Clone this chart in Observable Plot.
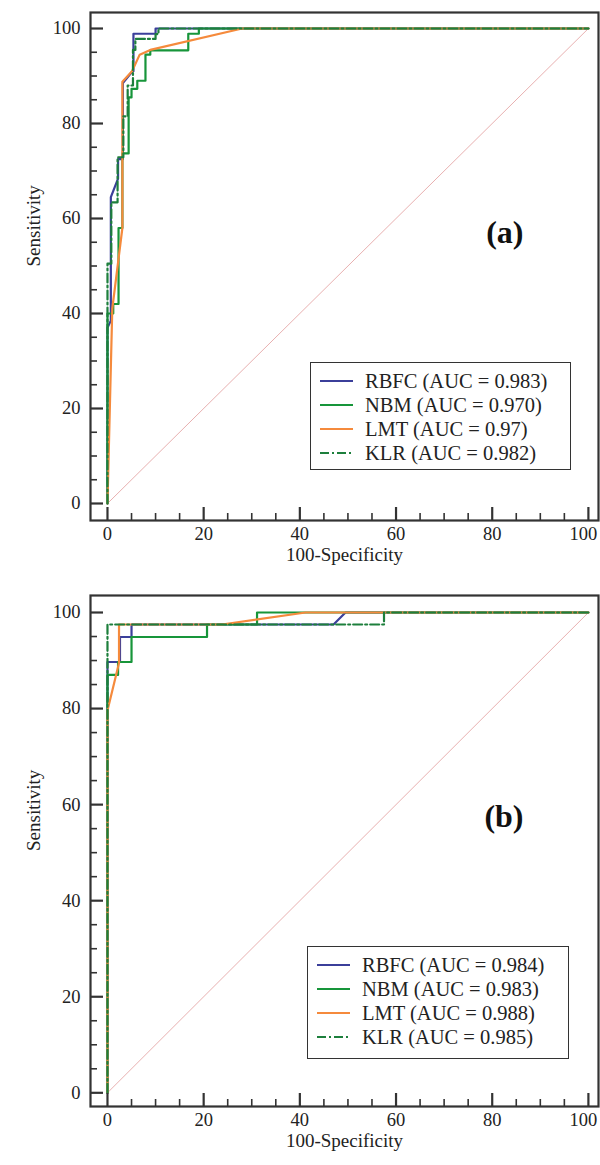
<!DOCTYPE html>
<html><head><meta charset="utf-8">
<script src="https://cdn.jsdelivr.net/npm/d3@7"></script>
<script src="https://cdn.jsdelivr.net/npm/@observablehq/plot@0.6"></script>
<style>
body{margin:0;background:#fff;}
#fig{position:relative;width:600px;height:1165px;font-family:"Liberation Serif","Times New Roman",serif;overflow:hidden;}
.panel{position:absolute;left:0;}
.legend{position:absolute;box-sizing:border-box;border:1.5px solid #333;background:#fff;font-size:20.5px;color:#222;padding-top:6px;}
.legend .row{display:flex;align-items:center;height:24px;white-space:nowrap;}
.legend svg{margin-left:9px;margin-right:12px;}
</style></head>
<body><div id="fig"></div>
<script>
// ---------- data ----------
const series = ["RBFC", "NBM", "LMT", "KLR"];
const colors = ["#3b3f9a", "#17953a", "#f58a3c", "#1d7f3c"];
const dashes = [null, null, null, "9,3,2,3"];
const aucA = ["0.983", "0.970", "0.97", "0.982"];
const aucB = ["0.984", "0.983", "0.988", "0.985"];
const majorTicks = [0, 20, 40, 60, 80, 100];
const xLabelsInner = [0, 20, 40, 60, 80];
const xLabelsEdge = [100];
const minorTicks = [5, 10, 15, 25, 30, 35, 45, 50, 55, 65, 70, 75, 85, 90, 95];
const diagonal = [[0, 0], [100, 100]];

// panel (a) ROC curves: [100-specificity, sensitivity]
const rbfcA = [[0,0],[0,37],[0.7,38.5],[0.7,64.5],[2.2,68.4],[2.2,72.5],[3.2,72.5],[3.2,88.5],[5.2,91],[5.4,91],[5.4,98.9],[10,98.9],[10,100],[100,100]];
const nbmA  = [[0,0],[0,40],[1.2,40],[1.2,42],[2.3,42],[2.3,58],[3.1,58],[3.1,73.7],[4.4,73.7],[4.4,85.5],[5,85.5],[5,87.3],[6.2,87.3],[6.2,89],[7.9,89],[7.9,94.5],[8.9,94.5],[8.9,95.4],[16.8,95.4],[16.8,98.9],[19,98.9],[19,100],[100,100]];
const lmtA  = [[0,0],[1,41],[3.1,58],[3.1,88.8],[5.1,91],[6.7,94.5],[8.9,95.5],[28,100],[100,100]];
const klrA  = [[0,0],[0,50.5],[0.8,50.5],[0.8,63.4],[2.1,63.4],[2.1,72.9],[3.3,72.9],[3.3,81.5],[4.2,81.5],[4.2,88],[5.3,88],[5.3,95.5],[5.8,95.5],[5.8,97.8],[10,97.8],[10,98.8],[10.6,98.8],[10.6,100],[100,100]];

// panel (b) ROC curves
const rbfcB = [[0,0],[0,89.7],[2.6,89.7],[2.6,94.9],[5,94.9],[5,97.5],[47,97.5],[49.5,100],[100,100]];
const nbmB  = [[0,0],[0,87],[2.2,87],[2.2,89.7],[5,89.7],[5,94.9],[20.7,94.9],[20.7,97.5],[31.1,97.5],[31.1,100],[100,100]];
const lmtB  = [[0,0],[0,79.6],[2.4,89.5],[2.4,97.5],[23.8,97.5],[41.2,100],[100,100]];
const klrB  = [[0,0],[0,97.5],[57.5,97.5],[57.5,100],[100,100]];

// ---------- drawing ----------
const AX = "#333";
const noText = () => "";
function panel({curves, yDomain, height, marginTop, marginBottom, tag}) {
  return Plot.plot({
    width: 600, height, marginLeft: 90, marginRight: 2, marginTop, marginBottom,
    x: {domain: [-3.53, 102.1]},
    y: {domain: yDomain},
    style: {fontFamily: "Liberation Serif, Times New Roman, serif", fontSize: "18px", color: "#222", background: "white"},
    marks: [
      Plot.line(diagonal, {x: d => d[0], y: d => d[1], stroke: "#e8b0b0", strokeWidth: 1}),
      ...curves.map((c, i) => Plot.line(c, {x: d => d[0], y: d => d[1], stroke: colors[i], strokeWidth: 2.2, strokeDasharray: dashes[i]})),
      // inward ticks: drawn at the frame edge and shifted inside by their own length
      Plot.axisY(majorTicks, {anchor: "left", tickSize: 13, dx: 13, tickFormat: noText, label: null, stroke: AX, strokeWidth: 2.2}),
      Plot.axisY(minorTicks, {anchor: "left", tickSize: 7, dx: 7, tickFormat: noText, label: null, stroke: AX, strokeWidth: 1.6}),
      Plot.axisX(majorTicks, {anchor: "bottom", tickSize: 13, dy: -13, tickFormat: noText, label: null, stroke: AX, strokeWidth: 2.2}),
      Plot.axisX(minorTicks, {anchor: "bottom", tickSize: 7, dy: -7, tickFormat: noText, label: null, stroke: AX, strokeWidth: 1.6}),
      // tick labels
      Plot.axisY(majorTicks, {anchor: "left", tickSize: 0, tickPadding: 10, label: null, fontSize: 18.5}),
      Plot.axisX(xLabelsInner, {anchor: "bottom", tickSize: 0, tickPadding: 6, label: null, fontSize: 18.5}),
      Plot.axisX(xLabelsEdge, {anchor: "bottom", tickSize: 0, tickPadding: 6, label: null, fontSize: 18.5, dx: -5}),
      Plot.frame({stroke: AX, strokeWidth: 2.2}),
      Plot.text(["Sensitivity"], {frameAnchor: "left", dx: -57, rotate: -90, fontSize: 19, fill: "#222"}),
      Plot.text(["100-Specificity"], {frameAnchor: "bottom", dy: 40, fontSize: 19, fill: "#222"}),
      Plot.text([tag], {frameAnchor: "right", dx: -75, dy: -34, fontSize: 32, fontWeight: "bold", fill: "#111"})
    ]
  });
}

function legend(aucs, {left, top, width, height}) {
  const div = document.createElement("div");
  div.className = "legend";
  Object.assign(div.style, {left: left + "px", top: top + "px", width: width + "px", height: height + "px"});
  series.forEach((s, i) => {
    const row = document.createElement("div");
    row.className = "row";
    row.innerHTML = `<svg width="33" height="6"><line x1="0" y1="3" x2="33" y2="3" stroke="${colors[i]}" stroke-width="2" ${dashes[i] ? `stroke-dasharray="${dashes[i]}"` : ""}/></svg><span>${s} (AUC = ${aucs[i]})</span>`;
    div.appendChild(row);
  });
  return div;
}

const fig = document.getElementById("fig");
const pa = panel({curves: [rbfcA, nbmA, lmtA, klrA], yDomain: [-3.58, 103.37], height: 583, marginTop: 12, marginBottom: 63, tag: "(a)"});
pa.classList.add("panel"); pa.style.top = "0px";
const pb = panel({curves: [rbfcB, nbmB, lmtB, klrB], yDomain: [-2.85, 103.54], height: 582, marginTop: 12, marginBottom: 59, tag: "(b)"});
pb.classList.add("panel"); pb.style.top = "583px";
fig.appendChild(pa);
fig.appendChild(pb);
fig.appendChild(legend(aucA, {left: 310, top: 362, width: 261, height: 108}));
fig.appendChild(legend(aucB, {left: 307, top: 946, width: 262, height: 113}));
</script>
</body></html>
